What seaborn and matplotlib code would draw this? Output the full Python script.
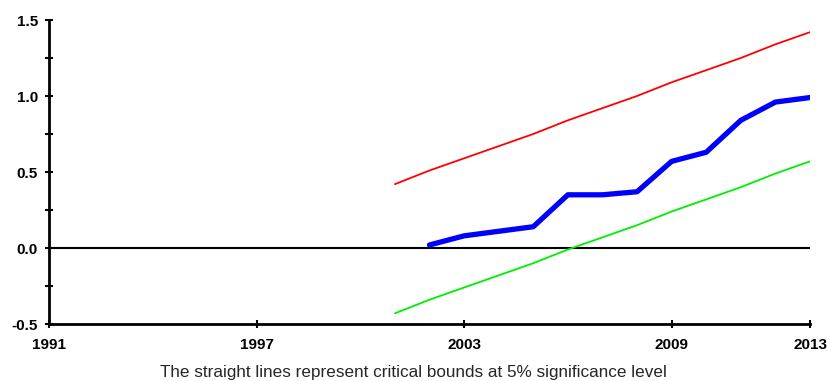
import numpy as np
import pandas as pd
import matplotlib
matplotlib.use('Agg')
import matplotlib.pyplot as plt
import seaborn as sns
from matplotlib.ticker import MultipleLocator

# CUSUM of squares and 5% bounds
years = [2001, 2002, 2003, 2004, 2005, 2006, 2007, 2008, 2009, 2010, 2011, 2012, 2013]
upper = [0.42, 0.51, 0.59, 0.67, 0.75, 0.84, 0.92, 1.00, 1.09, 1.17, 1.25, 1.34, 1.42]
lower = [-0.43, -0.34, -0.26, -0.18, -0.10, -0.01, 0.07, 0.15, 0.24, 0.32, 0.40, 0.49, 0.57]
cusum_years = [2002, 2003, 2004, 2005, 2006, 2007, 2008, 2009, 2010, 2011, 2012, 2013]
cusum = [0.02, 0.08, 0.11, 0.14, 0.35, 0.35, 0.37, 0.57, 0.63, 0.84, 0.96, 0.99]
xticks = [1991, 1997, 2003, 2009, 2013]

df_bounds = pd.DataFrame({'Year': years, 'Upper': upper, 'Lower': lower})
df_cusum = pd.DataFrame({'Year': cusum_years, 'CUSUM': cusum})

sns.set_style('white')
plt.rcParams['font.family'] = ['Liberation Sans', 'DejaVu Sans']

fig = plt.figure(figsize=(8.28, 3.81), dpi=100)
ax = fig.add_axes([49 / 828, 1 - 324 / 381, (810 - 49) / 828, (324 - 20) / 381])

ax.axhline(0, color='black', lw=1.5, zorder=1)
sns.lineplot(data=df_bounds, x='Year', y='Upper', color='#ff0000', lw=1.3, ax=ax)
sns.lineplot(data=df_bounds, x='Year', y='Lower', color='#00ee00', lw=1.3, ax=ax)
sns.lineplot(data=df_cusum, x='Year', y='CUSUM', color='#0000ff', lw=3.8, ax=ax)

ax.set_xlim(1991, 2013)
ax.set_ylim(-0.5, 1.5)
ax.set_xticks(xticks)
ax.set_xticklabels([str(x) for x in xticks], fontweight='bold', fontsize=11)
ax.yaxis.set_major_locator(MultipleLocator(0.5))
ax.yaxis.set_minor_locator(MultipleLocator(0.25))
ax.set_yticklabels(['%.1f' % v for v in ax.get_yticks()], fontweight='bold', fontsize=11)
ax.tick_params(axis='both', which='both', direction='inout', length=6, width=1.5,
               left=True, bottom=True, colors='black')
ax.tick_params(axis='x', which='major', pad=7)
ax.tick_params(axis='y', which='major', pad=5)
ax.tick_params(axis='x', which='minor', bottom=False)

for s in ['top', 'right']:
    ax.spines[s].set_visible(False)
for s in ['left', 'bottom']:
    ax.spines[s].set_linewidth(2)
    ax.spines[s].set_color('black')

ax.set_ylabel('')
ax.set_xlabel('')
fig.text(413.5 / 828, 1 - 373 / 381,
         'The straight lines represent critical bounds at 5% significance level',
         fontsize=12.3, ha='center', va='center')

plt.savefig('out.png', dpi=100)
